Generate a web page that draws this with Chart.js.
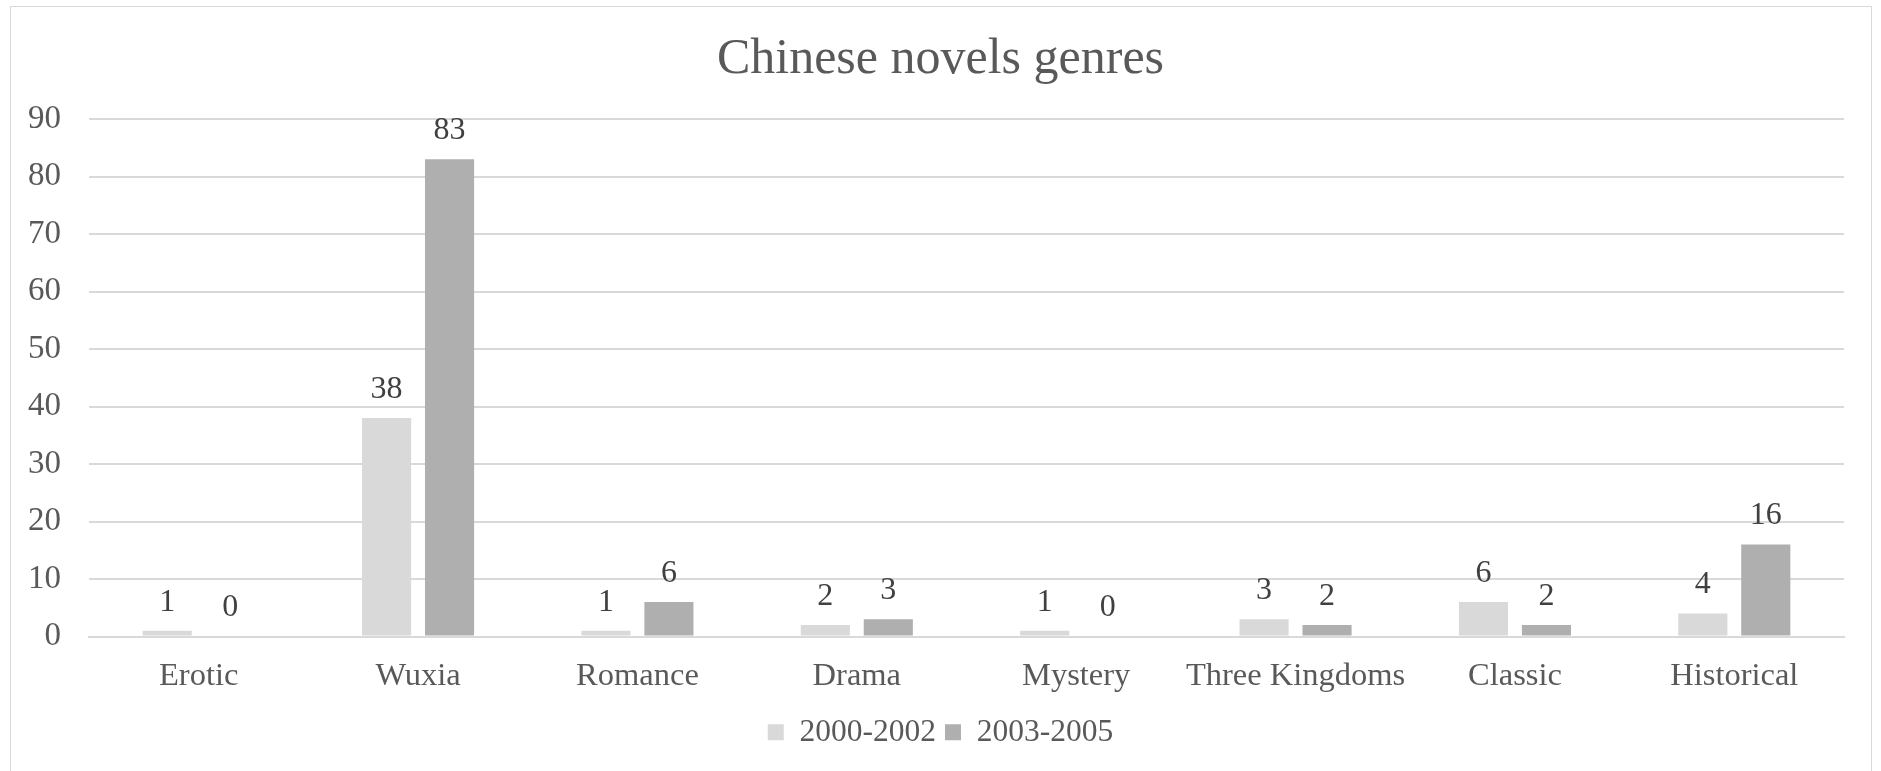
<!DOCTYPE html>
<html>
<head>
<meta charset="utf-8">
<script src="https://cdn.jsdelivr.net/npm/chart.js@4/dist/chart.umd.min.js"></script>
<style>
  html, body { margin: 0; padding: 0; background: #fff; }
  #wrap { position: relative; width: 1881px; height: 771px; overflow: hidden; }
  #frame { position: absolute; left: 10px; top: 6px; width: 1862px; height: 820px; border: 1px solid #d9d9d9; box-sizing: border-box; }
  canvas { position: absolute; left: 0; top: 0; }
</style>
</head>
<body>
<div id="wrap">
  <div id="frame"></div>
  <canvas id="genre_chart" width="1881" height="771"></canvas>
</div>
<script>
// chart data
var genres = ['Erotic', 'Wuxia', 'Romance', 'Drama', 'Mystery', 'Three Kingdoms', 'Classic', 'Historical'];
var period1 = [1, 38, 1, 2, 1, 3, 6, 4];
var period2 = [0, 83, 6, 3, 0, 2, 2, 16];
var seriesNames = ['2000-2002', '2003-2005'];
var yTicks = [0, 10, 20, 30, 40, 50, 60, 70, 80, 90];

var serif = '"Liberation Serif", "Times New Roman", serif';

// value labels above the bars
var barLabels = {
  id: 'barLabels',
  afterDatasetsDraw: function (chart) {
    var ctx = chart.ctx;
    ctx.save();
    ctx.font = '32px ' + serif;
    ctx.fillStyle = '#404040';
    ctx.textAlign = 'center';
    ctx.textBaseline = 'middle';
    chart.data.datasets.forEach(function (ds, i) {
      chart.getDatasetMeta(i).data.forEach(function (bar, j) {
        ctx.fillText(ds.data[j], bar.x, bar.y - 28.5);
      });
    });
    ctx.restore();
  }
};

var ctx = document.getElementById('genre_chart').getContext('2d');
new Chart(ctx, {
  type: 'bar',
  data: {
    labels: genres,
    datasets: [{
      label: seriesNames[0],
      data: period1,
      backgroundColor: '#d9d9d9',
      categoryPercentage: 0.574,
      barPercentage: 0.78
    }, {
      label: seriesNames[1],
      data: period2,
      backgroundColor: '#afafaf',
      categoryPercentage: 0.574,
      barPercentage: 0.78
    }]
  },
  options: {
    responsive: false,
    animation: false,
    layout: { padding: { left: 0, right: 0, top: 0, bottom: 13 } },
    plugins: {
      title: {
        display: true,
        text: 'Chinese novels genres',
        color: '#595959',
        font: { family: serif, size: 50, weight: 'normal' },
        padding: { top: 30, bottom: 29 }
      },
      legend: {
        position: 'bottom',
        labels: {
          color: '#595959',
          font: { family: serif, size: 31.5 },
          boxWidth: 16,
          boxHeight: 16,
          padding: 9
        }
      },
      tooltip: { enabled: false }
    },
    scales: {
      x: {
        grid: { display: false },
        border: { color: '#d9d9d9', width: 2 },
        ticks: {
          color: '#595959',
          font: { family: serif, size: 32.5 },
          padding: 12,
          minRotation: 0,
          maxRotation: 0,
          autoSkip: false
        }
      },
      y: {
        min: 0,
        max: 90,
        afterBuildTicks: function (axis) {
          axis.ticks = yTicks.map(function (v) { return { value: v }; });
        },
        grid: { color: '#d9d9d9', lineWidth: 2, drawTicks: false },
        border: { display: false },
        ticks: { color: '#595959', font: { family: serif, size: 33 }, padding: 28 }
      },
      // empty right-hand margin so title and legend stay centred on the page
      yRight: {
        position: 'right',
        grid: { display: false },
        border: { display: false },
        ticks: { display: false },
        afterFit: function (axis) { axis.width = 37; }
      }
    }
  },
  plugins: [barLabels]
});
</script>
</body>
</html>
